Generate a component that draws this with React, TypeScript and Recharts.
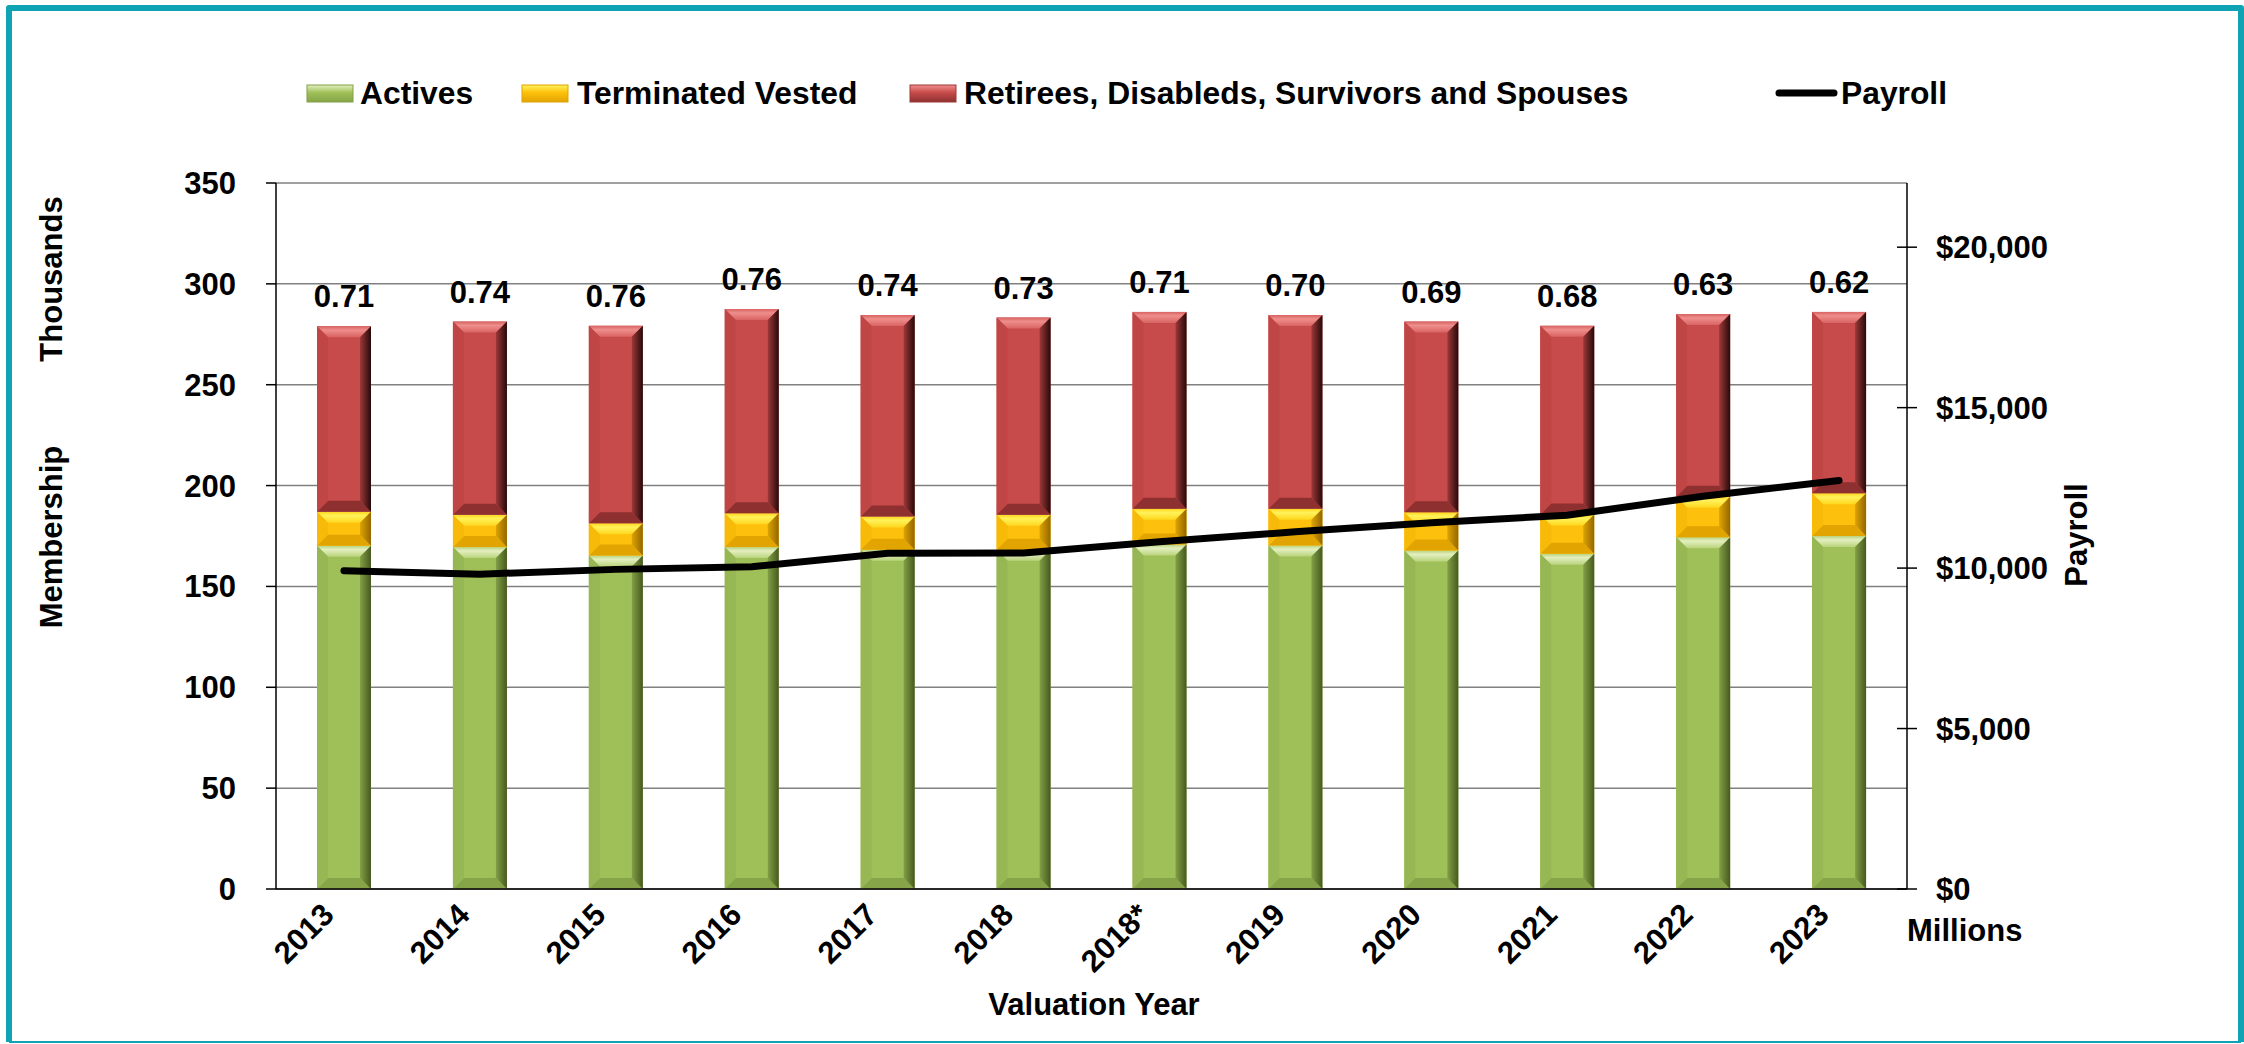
import React from "react";
import {
  ComposedChart,
  Bar,
  Line,
  XAxis,
  YAxis,
  CartesianGrid,
  LabelList,
} from "recharts";

// values (membership in thousands, payroll in $ millions)
const years = ["2013", "2014", "2015", "2016", "2017", "2018", "2018*", "2019", "2020", "2021", "2022", "2023"];
const actives = [170.2, 169.5, 165.3, 169.5, 168.2, 168.2, 170.8, 170.3, 167.8, 166.2, 174.4, 175.0];
const terminatedVested = [16.8, 16.0, 16.0, 16.8, 16.5, 17.3, 17.7, 18.2, 19.0, 19.4, 20.1, 21.2];
const retirees = [92.0, 95.8, 97.9, 101.2, 99.8, 97.8, 97.6, 96.0, 94.5, 93.6, 90.5, 89.9];
const payroll = [9920, 9810, 9960, 10040, 10460, 10470, 10820, 11130, 11410, 11650, 12240, 12730];
const ratioLabels = ["0.71", "0.74", "0.76", "0.76", "0.74", "0.73", "0.71", "0.70", "0.69", "0.68", "0.63", "0.62"];

const membershipTicks = [0, 50, 100, 150, 200, 250, 300, 350];
const payrollTicks = [0, 5000, 10000, 15000, 20000];

const data = years.map((year, i) => ({
  year,
  actives: actives[i],
  terminated: terminatedVested[i],
  retirees: retirees[i],
  payroll: payroll[i],
  ratio: ratioLabels[i],
}));

const FONT = "'Liberation Sans', Arial, Helvetica, sans-serif";
const TEAL = "#0FA3B3";
const PLOT_RIGHT = 1907;

const palettes = {
  green: { id: "g", base: "#9FC058", top1: "#E4EFC0", top2: "#B9D37C", bottom: "#86A448", left: "#97B654", right1: "#82A046", right2: "#46591F" },
  yellow: { id: "y", base: "#FDC00C", top1: "#FFF25A", top2: "#FFD71E", bottom: "#E2A400", left: "#F7BA08", right1: "#DDA400", right2: "#946600" },
  red: { id: "r", base: "#C84B4B", top1: "#EE8E8C", top2: "#D86362", bottom: "#8E3030", left: "#C04646", right1: "#9E3838", right2: "#260A0A" },
};

function BevelBar(props: any) {
  const { x, y, width, height, palette } = props;
  if (!height || height <= 0) return null;
  const b = Math.min(11, height / 2, width / 2);
  const x2 = x + width;
  const y2 = y + height;
  const p = palette;
  return (
    <g>
      <rect x={x} y={y} width={width} height={height} fill={p.base} />
      <polygon points={`${x},${y} ${x2},${y} ${x2 - b},${y + b} ${x + b},${y + b}`} fill={`url(#top-${p.id})`} />
      <polygon points={`${x},${y2} ${x2},${y2} ${x2 - b},${y2 - b} ${x + b},${y2 - b}`} fill={p.bottom} />
      <polygon points={`${x},${y} ${x + b},${y + b} ${x + b},${y2 - b} ${x},${y2}`} fill={p.left} />
      <polygon points={`${x2},${y} ${x2 - b},${y + b} ${x2 - b},${y2 - b} ${x2},${y2}`} fill={`url(#right-${p.id})`} />
    </g>
  );
}

function RatioLabel(props: any) {
  const { x, y, width, value } = props;
  return (
    <text x={x + width / 2} y={y - 19} textAnchor="middle" fontFamily={FONT} fontWeight="bold" fontSize={31} fill="#000">
      {value}
    </text>
  );
}

function YearTick(props: any) {
  const { x, y, payload } = props;
  return (
    <g transform={`translate(${x - 16},${y + 20})`}>
      <text transform="rotate(-45)" textAnchor="end" dy="0.35em" fontFamily={FONT} fontWeight="bold" fontSize={31} fill="#000">
        {payload.value}
      </text>
    </g>
  );
}

function PayrollTick(props: any) {
  const { x, y, payload } = props;
  return (
    <g>
      <line x1={PLOT_RIGHT - 10} x2={PLOT_RIGHT} y1={y} y2={y} stroke="#000" strokeWidth={1.5} />
      <text x={x} y={y} dy="0.355em" textAnchor="start" fontFamily={FONT} fontWeight="bold" fontSize={31} fill="#000">
        {"$" + Number(payload.value).toLocaleString("en-US")}
      </text>
    </g>
  );
}

function Swatch({ x, p }: any) {
  return <rect x={x} y={85} width={46} height={17} fill={`url(#sw-${p.id})`} stroke={p.right1} strokeWidth={1} />;
}

function Overlay() {
  const t = { fontFamily: FONT, fontWeight: "bold" as const, fontSize: 31, fill: "#000" };
  const lg = { ...t, fontSize: 31.8 };
  return (
    <svg width={2244} height={1044} style={{ position: "absolute", left: 0, top: 0, pointerEvents: "none" }}>
      <defs>
        {Object.values(palettes).map((p) => (
          <linearGradient key={p.id} id={`sw-${p.id}`} x1="0" y1="0" x2="0" y2="1">
            <stop offset="0" stopColor={p.top1} />
            <stop offset="0.45" stopColor={p.base} />
            <stop offset="1" stopColor={p.bottom} />
          </linearGradient>
        ))}
      </defs>
      <path d="M9,1042 L9,8 L2241,8 L2241,1042" fill="none" stroke={TEAL} strokeWidth={6} strokeLinejoin="round" />
      <line x1={9} x2={2241} y1={1042} y2={1042} stroke={TEAL} strokeWidth={2} />

      <Swatch x={307} p={palettes.green} />
      <text x={360} y={104} {...lg}>Actives</text>
      <Swatch x={522} p={palettes.yellow} />
      <text x={577} y={104} {...lg}>Terminated Vested</text>
      <Swatch x={910} p={palettes.red} />
      <text x={964} y={104} {...lg}>Retirees, Disableds, Survivors and Spouses</text>
      <line x1={1779} x2={1834} y1={93} y2={93} stroke="#000" strokeWidth={7} strokeLinecap="round" />
      <text x={1841} y={104} {...lg}>Payroll</text>

      <text x={62} y={279} transform="rotate(-90 62 279)" textAnchor="middle" {...t}>Thousands</text>
      <text x={62} y={537} transform="rotate(-90 62 537)" textAnchor="middle" {...t}>Membership</text>
      <text x={2087} y={535} transform="rotate(-90 2087 535)" textAnchor="middle" {...t}>Payroll</text>
      <text x={1907} y={941} {...t}>Millions</text>
      <text x={1094} y={1015} textAnchor="middle" {...t}>Valuation Year</text>
    </svg>
  );
}

export default function App() {
  return (
    <div style={{ position: "absolute", left: 0, top: 0, width: 2244, height: 1044, background: "#fff" }}>
      <ComposedChart width={2244} height={1044} data={data} margin={{ top: 183, right: 0, bottom: 0, left: 0 }}>
        <defs>
          {Object.values(palettes).map((p) => (
            <React.Fragment key={p.id}>
              <linearGradient id={`top-${p.id}`} x1="0" y1="0" x2="0" y2="1">
                <stop offset="0" stopColor={p.top2} />
                <stop offset="0.35" stopColor={p.top1} />
                <stop offset="1" stopColor={p.top2} />
              </linearGradient>
              <linearGradient id={`right-${p.id}`} x1="0" y1="0" x2="1" y2="0">
                <stop offset="0" stopColor={p.right1} />
                <stop offset="1" stopColor={p.right2} />
              </linearGradient>
            </React.Fragment>
          ))}
        </defs>
        <CartesianGrid yAxisId="left" vertical={false} stroke="#808080" strokeWidth={1.5} />
        <XAxis
          dataKey="year"
          height={155}
          tickLine={false}
          tickSize={0}
          tickMargin={0}
          interval={0}
          axisLine={{ stroke: "#000", strokeWidth: 1.5 }}
          tick={<YearTick />}
        />
        <YAxis
          yAxisId="left"
          width={276}
          domain={[0, 350]}
          ticks={membershipTicks}
          tickSize={10}
          tickMargin={30}
          axisLine={{ stroke: "#000", strokeWidth: 1.5 }}
          tickLine={{ stroke: "#000", strokeWidth: 1.5 }}
          tick={{ fontFamily: FONT, fontWeight: "bold", fontSize: 31, fill: "#000" }}
        />
        <YAxis
          yAxisId="right"
          orientation="right"
          width={337}
          domain={[0, 22000]}
          ticks={payrollTicks}
          tickSize={10}
          tickMargin={19}
          axisLine={{ stroke: "#000", strokeWidth: 1.5 }}
          tickLine={{ stroke: "#000", strokeWidth: 1.5 }}
          tick={<PayrollTick />}
        />
        <Bar yAxisId="left" dataKey="actives" stackId="m" barSize={54} isAnimationActive={false} shape={(p: any) => <BevelBar {...p} palette={palettes.green} />} />
        <Bar yAxisId="left" dataKey="terminated" stackId="m" barSize={54} isAnimationActive={false} shape={(p: any) => <BevelBar {...p} palette={palettes.yellow} />} />
        <Bar yAxisId="left" dataKey="retirees" stackId="m" barSize={54} isAnimationActive={false} shape={(p: any) => <BevelBar {...p} palette={palettes.red} />}>
          <LabelList dataKey="ratio" content={<RatioLabel />} />
        </Bar>
        <Line
          yAxisId="right"
          type="linear"
          dataKey="payroll"
          stroke="#000"
          strokeWidth={7}
          strokeLinecap="round"
          dot={false}
          activeDot={false}
          isAnimationActive={false}
        />
      </ComposedChart>
      <Overlay />
    </div>
  );
}
